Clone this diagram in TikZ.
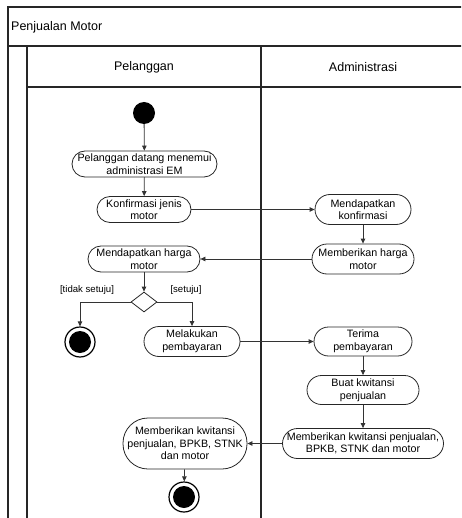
\documentclass[tikz,border=0pt]{standalone}
\usepackage{fontspec}
\setmainfont{Liberation Sans}
\usetikzlibrary{arrows.meta,shapes.geometric}
\newcommand{\actfont}{\fontsize{10.7}{12.6}\selectfont}
\newcommand{\headfont}{\fontsize{12.5}{14}\selectfont}
\newcommand{\guardfont}{\fontsize{9.6}{11}\selectfont}
\tikzset{
  frame/.style={line width=1.3pt, draw=black!85},
  act/.style={draw=black!85, line width=0.8pt, inner sep=0pt, align=center, font=\actfont},
  flow/.style={draw=black!80, line width=0.8pt, -{Triangle[length=5pt,width=4.5pt]}},
  startdot/.style={circle, fill=black, inner sep=0pt, minimum size=22pt},
  enddot/.style={circle, draw=black, line width=1.2pt, inner sep=0pt, minimum size=30pt,
    path picture={\fill[black] (path picture bounding box.center) circle (11pt);}},
  choice/.style={diamond, draw=black!85, line width=0.8pt, inner sep=0pt,
    minimum width=26pt, minimum height=20pt},
  guard/.style={font=\guardfont, inner sep=0pt}
}
\begin{document}
\begin{tikzpicture}[x=1pt, y=-1pt]
\useasboundingbox (0,0) rectangle (461,518);
\clip (0,0) rectangle (461,518);

% swimlane frame
\draw[frame] (8,530) -- (8,7) -- (470,7);
\draw[frame] (8,46) -- (470,46);
\draw[frame] (27,46) -- (27,530);
\draw[frame] (27,87) -- (470,87);
\draw[frame] (261,46) -- (261,530);
\node[anchor=west, font=\headfont, inner sep=0pt] (title) at (11,27) {Penjualan Motor};
\node[font=\headfont] (laneA) at (144,67) {Pelanggan};
\node[font=\headfont] (laneB) at (363,67) {Administrasi};

% Pelanggan lane
\node[startdot] (start) at (144,113) {};
\node[act, minimum width=145pt, minimum height=26pt, rounded corners=13pt] (datang) at (144.5,164)
  {Pelanggan datang menemui\\administrasi EM};
\node[act, minimum width=94pt, minimum height=26pt, rounded corners=13pt] (konf) at (144,209.5)
  {Konfirmasi jenis\\motor};
\node[act, minimum width=112pt, minimum height=26pt, rounded corners=13pt] (harga) at (144,259)
  {Mendapatkan harga\\motor};
\node[choice] (dec) at (144,302) {};
\node[enddot] (endA) at (80,342) {};
\node[act, minimum width=96pt, minimum height=30pt, rounded corners=15pt] (bayar) at (192,341.5)
  {Melakukan\\pembayaran};
\node[act, minimum width=124pt, minimum height=51pt, rounded corners=25pt] (terima) at (185,443.5)
  {Memberikan kwitansi\\penjualan, BPKB, STNK\\dan motor};
\node[enddot] (endB) at (184,497) {};
\node[guard] (tidak) at (87,290) {[tidak setuju]};
\node[guard] (setuju) at (186,290) {[setuju]};

% Administrasi lane
\node[act, minimum width=96pt, minimum height=30pt, rounded corners=15pt] (dapkonf) at (363,209.5)
  {Mendapatkan\\konfirmasi};
\node[act, minimum width=102pt, minimum height=30pt, rounded corners=15pt] (berharga) at (363,259)
  {Memberikan harga\\motor};
\node[act, minimum width=98pt, minimum height=29pt, rounded corners=14.5pt] (terbayar) at (363,341.5)
  {Terima\\pembayaran};
\node[act, minimum width=112pt, minimum height=29pt, rounded corners=14.5pt] (kwit) at (363,390)
  {Buat kwitansi\\penjualan};
\node[act, minimum width=161pt, minimum height=30pt, rounded corners=15pt] (beri) at (363,443.5)
  {Memberikan kwitansi penjualan,\\BPKB, STNK dan motor};

% control flow
\draw[flow] (start) -- (datang);
\draw[flow] (datang) -- (konf);
\draw[flow] (konf) -- (dapkonf);
\draw[flow] (dapkonf) -- (berharga);
\draw[flow] (berharga) -- (harga);
\draw[flow] (harga) -- (dec);
\draw[flow] (dec.west) -| (endA);
\draw[flow] (dec.east) -| (bayar);
\draw[flow] (bayar) -- (terbayar);
\draw[flow] (terbayar) -- (kwit);
\draw[flow] (kwit) -- (beri);
\draw[flow] (beri) -- (terima);
\draw[flow] (terima) -- (endB);
\end{tikzpicture}
\end{document}
